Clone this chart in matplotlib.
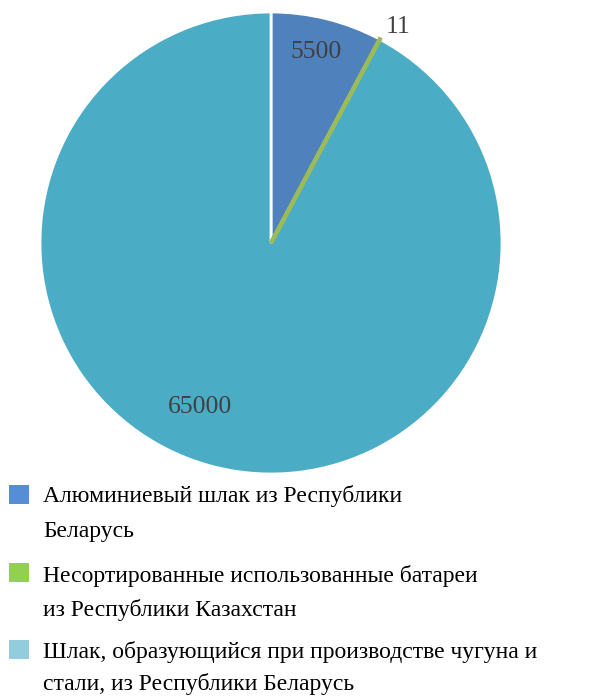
import matplotlib.pyplot as plt
from matplotlib.patches import Rectangle

# data
values = [5500, 11, 65000]
value_labels = ['5500', '11', '65000']
slice_colors = ['#4F81BD', '#9BBB59', '#4BACC6']
legend_colors = ['#558ED5', '#92D050', '#93CDDD']
legend_labels = [
    'Алюминиевый шлак из Республики\nБеларусь',
    'Несортированные использованные батареи\nиз Республики Казахстан',
    'Шлак, образующийся при производстве чугуна и\nстали, из Республики Беларусь',
]

plt.rcParams['font.family'] = ['Liberation Serif', 'DejaVu Serif']

W, H = 613, 697
fig = plt.figure(figsize=(W / 100, H / 100), dpi=100)

# pie axes: center (271, 243) px, radius 231 px
cx, cy, r = 271, 243, 231
ax = fig.add_axes([(cx - r) / W, (H - cy - r) / H, 2 * r / W, 2 * r / H])
wedges, _ = ax.pie(values, colors=slice_colors, startangle=90, counterclock=False,
                   radius=1.0, wedgeprops=dict(edgecolor='white', linewidth=2))
# the tiny green slice gets a thick edge so it stays visible
wedges[1].set_edgecolor(slice_colors[1])
wedges[1].set_linewidth(3)
wedges[1].set_zorder(5)
ax.set_xlim(-1, 1)
ax.set_ylim(-1, 1)
ax.set_aspect('equal')
ax.axis('off')

# value labels (pixel positions relative to pie)
label_px = [(316, 52), (398, 27), (200, 407)]
for (px, py), txt in zip(label_px, value_labels):
    ax.text((px - cx) / r, (cy - py) / r, txt, ha='center', va='center',
            fontsize=18.5, color='#404040')

# legend drawn by hand, one baseline per line
marker_top = [485, 563, 640]
baselines = [[502, 537], [582, 616], [658, 690]]
for col, lab, my, bl in zip(legend_colors, legend_labels, marker_top, baselines):
    fig.patches.append(Rectangle((9 / W, 1 - (my + 19) / H), 20 / W, 19 / H,
                                 transform=fig.transFigure, facecolor=col,
                                 edgecolor='none'))
    for line, y in zip(lab.split('\n'), bl):
        fig.text(43 / W, 1 - y / H, line, ha='left', va='baseline',
                 fontsize=17, color='black')

fig.savefig('out.png', dpi=100)
